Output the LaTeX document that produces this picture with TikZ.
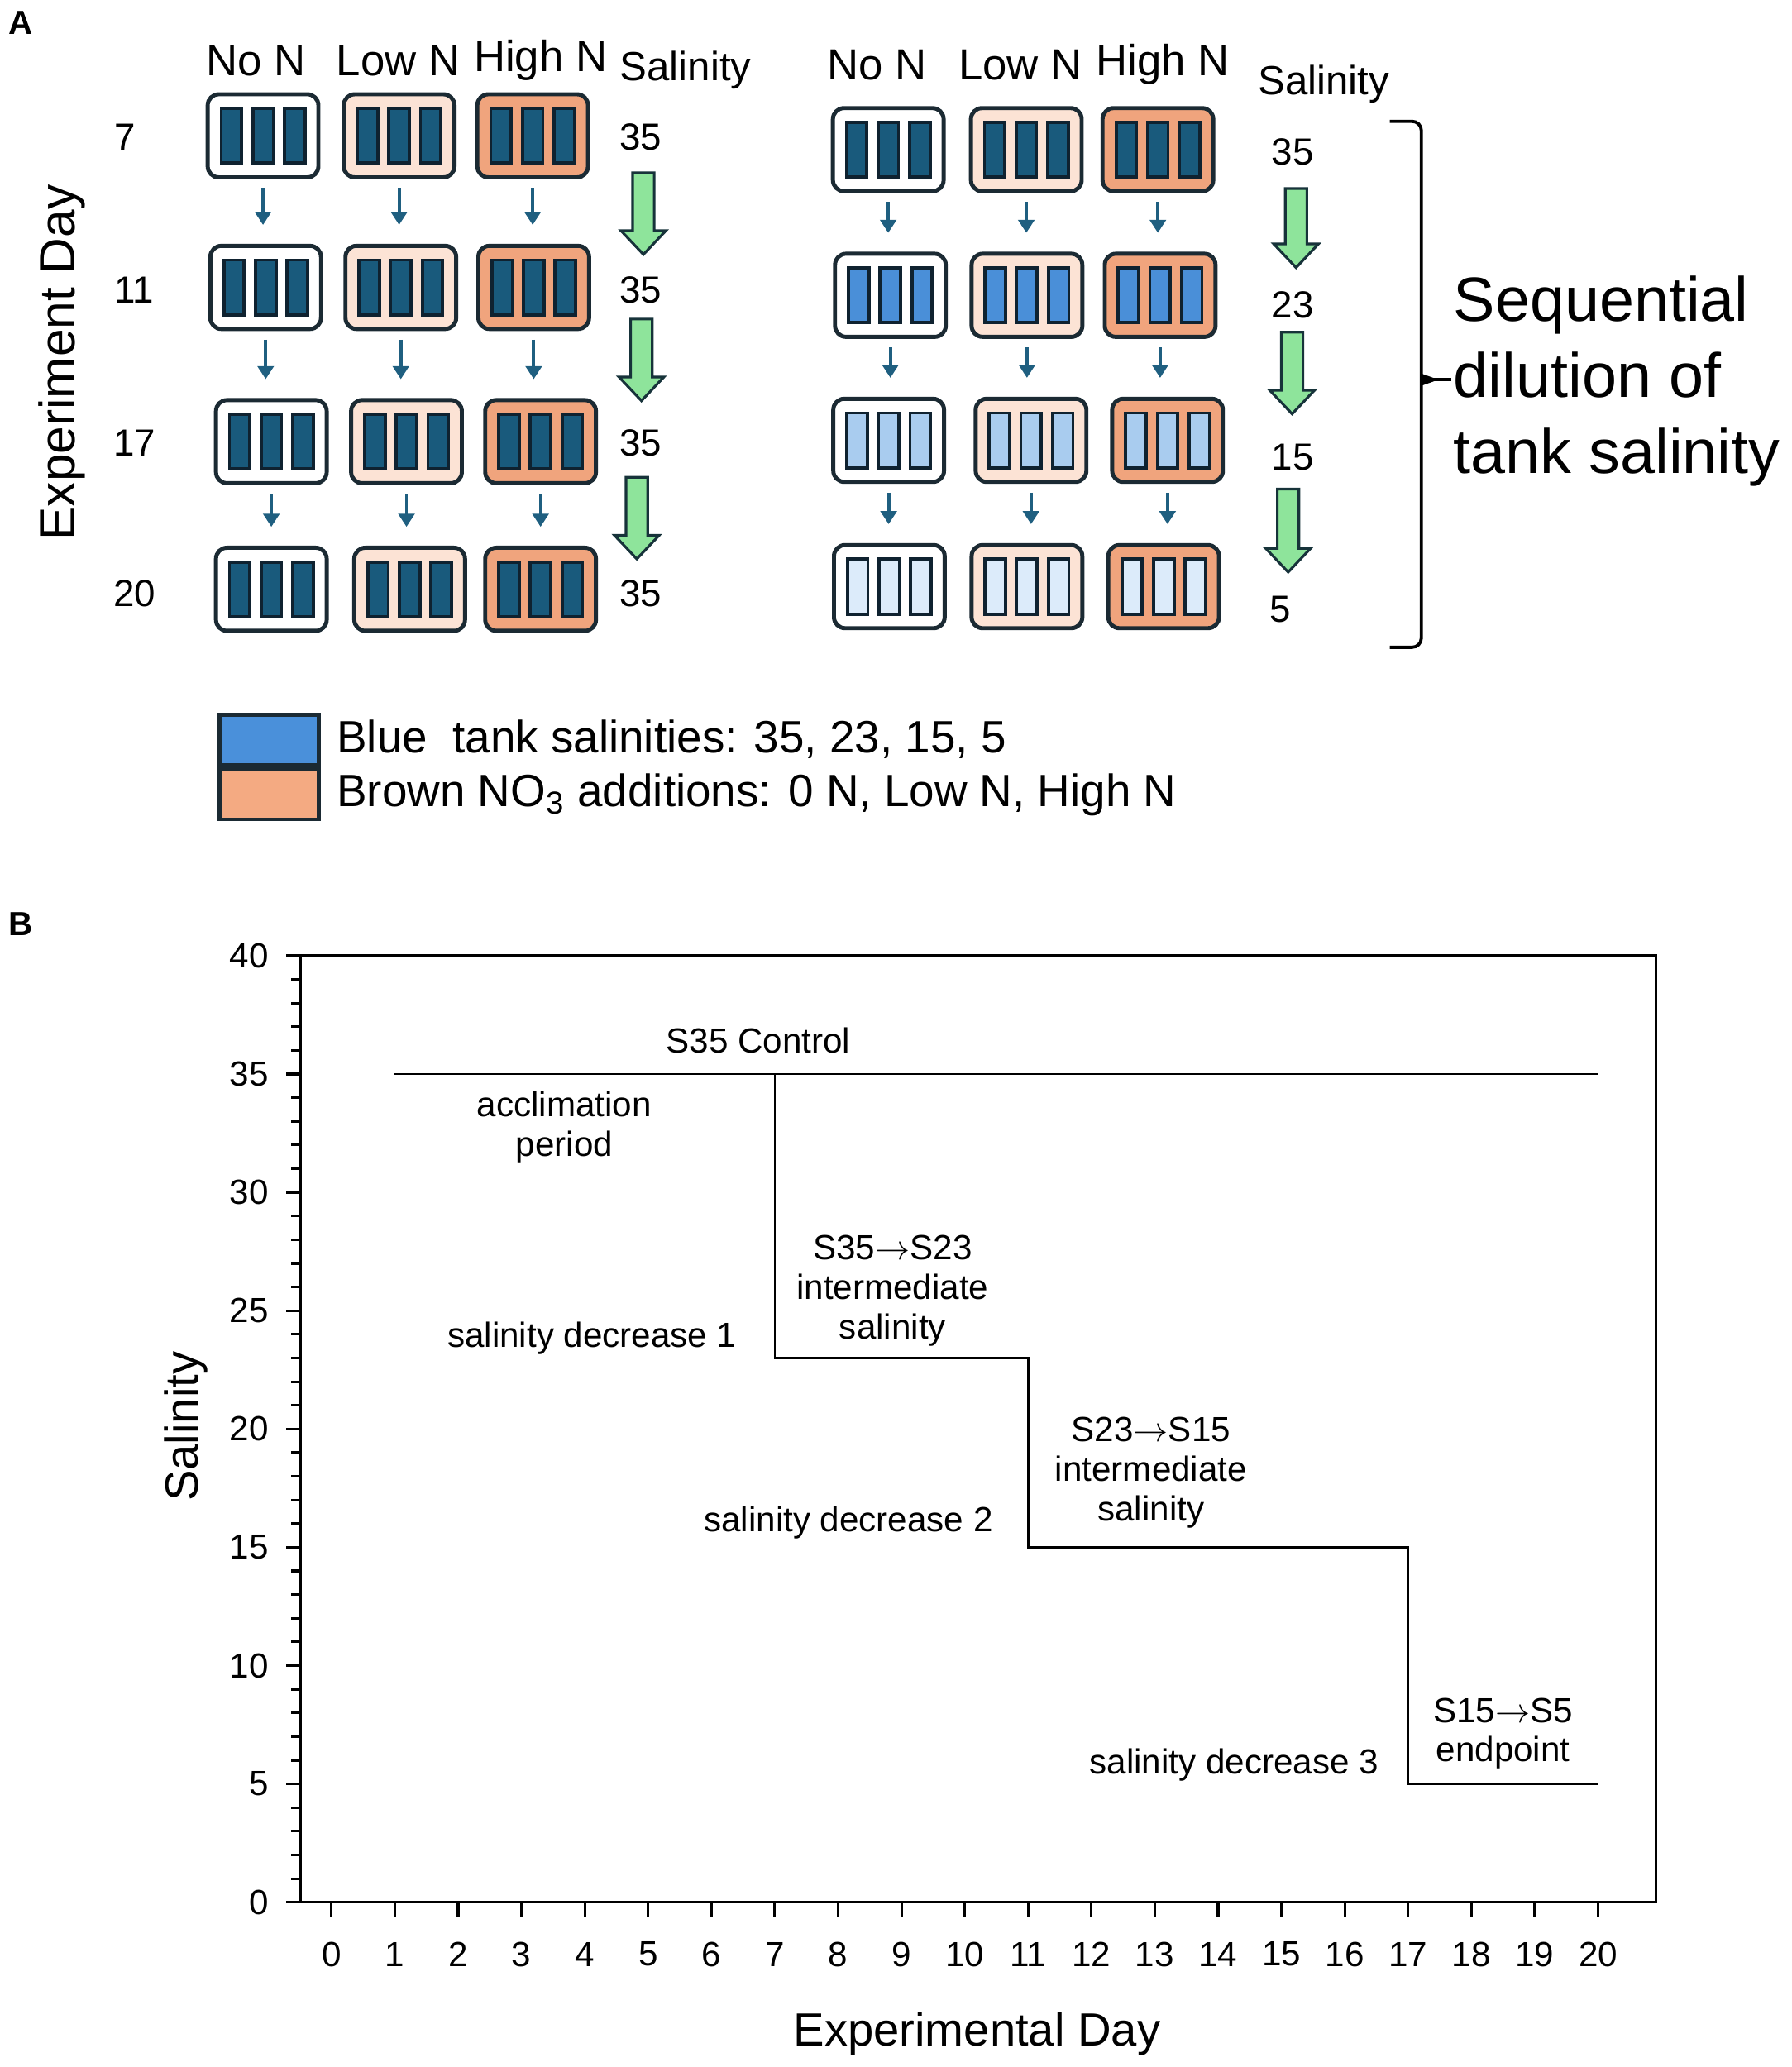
\documentclass[tikz,border=0pt]{standalone}
\usepackage{fontspec}
\setmainfont{Liberation Sans}
\usetikzlibrary{arrows.meta}

\definecolor{tankline}{HTML}{1B2A33}
\definecolor{tubeline}{HTML}{0F2230}
\definecolor{peach}{HTML}{FCE3D5}
\definecolor{salmon}{HTML}{F0A47D}
\definecolor{tubedark}{HTML}{195A7C}
\definecolor{tubemid}{HTML}{4A8FD8}
\definecolor{tubelight}{HTML}{A9CCEF}
\definecolor{tubepale}{HTML}{DCEBFA}
\definecolor{arrowblue}{HTML}{1F5F80}
\definecolor{salgreen}{HTML}{8EE49B}
\definecolor{salgreenline}{HTML}{17333A}
\definecolor{legblue}{HTML}{4A90DA}
\definecolor{legbrown}{HTML}{F4AA82}

\newcommand{\tank}[5]{%
  \node[tankbox, fill=#4] (#1) at (#2,#3) {};
  \foreach \dx in {-24,0,24}
    \draw[tube, fill=#5] ({#2+\dx-7.75},{#3-20.75}) rectangle ({#2+\dx+7.75},{#3+20.75});
}
\newcommand{\salarrow}[3]{%
  \draw[salarr] ({#1-8.2},#2) -- ({#1+8.2},#2) -- ({#1+8.2},{#3-18}) -- ({#1+17},{#3-18})
    -- (#1,#3) -- ({#1-17},{#3-18}) -- ({#1-8.2},{#3-18}) -- cycle;
}
\newcommand{\toarr}{$\rightarrow$}

\begin{document}
\begin{tikzpicture}[x=0.015946cm, y=-0.015946cm,
  every node/.style={inner sep=0pt},
  tankbox/.style={draw=tankline, line width=1.4pt, rounded corners=3.8pt,
    minimum width=1.339cm, minimum height=1.005cm},
  tube/.style={draw=tubeline, line width=1.1pt},
  feedarr/.style={draw=arrowblue, line width=1.1pt, -{Triangle[width=5.5pt,length=4.5pt]},
    shorten <=3pt, shorten >=6.5pt},
  salarr/.style={draw=salgreenline, fill=salgreen, line width=0.9pt},
  legkey/.style={draw=tankline, line width=1.3pt, minimum width=1.2cm, minimum height=0.61cm},
  paneltag/.style={font=\bfseries\fontsize{11.5}{14}\selectfont},
  hdr/.style={font=\fontsize{15}{18}\selectfont},
  salhdr/.style={font=\fontsize{14}{17}\selectfont},
  num/.style={font=\fontsize{13}{16}\selectfont},
  daytitle/.style={font=\fontsize{17.2}{20}\selectfont, rotate=90},
  legtext/.style={font=\fontsize{15.6}{19}\selectfont, anchor=west},
  bracetext/.style={font=\fontsize{21.5}{26.1}\selectfont, align=left, anchor=west},
  ticklab/.style={font=\fontsize{12}{14}\selectfont},
  note/.style={font=\fontsize{12}{13.6}\selectfont, align=center},
  axtitle/.style={font=\fontsize{16}{19}\selectfont},
  axisline/.style={line width=0.9pt},
  stepline/.style={line width=0.75pt}]
\useasboundingbox (0,0) rectangle (1359,1568);

\node[paneltag] (tagA) at (16,17) {A};
\node[paneltag] (tagB) at (16,701) {B};

\node[daytitle] (expday) at (47,275) {Experiment Day};
\node[num] (day7) at (95,104) {7};
\node[num] (day11) at (102,220) {11};
\node[num] (day17) at (102,336) {17};
\node[num] (day20) at (102,450) {20};

\node[hdr] (cnoh) at (194,46) {No N};
\node[hdr] (cloh) at (302,46) {Low N};
\node[hdr] (chih) at (410,46) {High N};
\node[salhdr] (csalh) at (520,53) {Salinity};

\tank{cno7}{199.5}{103}{white}{tubedark}
\tank{clo7}{302.7}{103}{peach}{tubedark}
\tank{chi7}{404}{103}{salmon}{tubedark}
\tank{cno11}{201.5}{218}{white}{tubedark}
\tank{clo11}{304}{218}{peach}{tubedark}
\tank{chi11}{404.8}{218}{salmon}{tubedark}
\tank{cno17}{205.8}{335}{white}{tubedark}
\tank{clo17}{308.3}{335}{peach}{tubedark}
\tank{chi17}{410}{335}{salmon}{tubedark}
\tank{cno20}{205.8}{447}{white}{tubedark}
\tank{clo20}{310.7}{447}{peach}{tubedark}
\tank{chi20}{410}{447}{salmon}{tubedark}

\node[num] (csal7) at (486,104) {35};
\node[num] (csal11) at (486,220) {35};
\node[num] (csal17) at (486,336) {35};
\node[num] (csal20) at (486,450) {35};
\salarrow{488}{131}{193}
\salarrow{486.5}{242}{304}
\salarrow{483}{362}{424}

\node[hdr] (dnoh) at (665,49) {No N};
\node[hdr] (dloh) at (774,49) {Low N};
\node[hdr] (dhih) at (882,49) {High N};
\node[salhdr] (dsalh) at (1004,64) {Salinity};

\tank{dno7}{673.7}{113.5}{white}{tubedark}
\tank{dlo7}{778.4}{113.5}{peach}{tubedark}
\tank{dhi7}{878.2}{113.5}{salmon}{tubedark}
\tank{dno11}{675.3}{224}{white}{tubemid}
\tank{dlo11}{778.9}{224}{peach}{tubemid}
\tank{dhi11}{879.9}{224}{salmon}{tubemid}
\tank{dno17}{674}{334}{white}{tubelight}
\tank{dlo17}{782}{334}{peach}{tubelight}
\tank{dhi17}{885.5}{334}{salmon}{tubelight}
\tank{dno20}{674.5}{445}{white}{tubepale}
\tank{dlo20}{778.9}{445}{peach}{tubepale}
\tank{dhi20}{882.6}{445}{salmon}{tubepale}

\node[num] (dsal7) at (980.5,115) {35};
\node[num] (dsal11) at (980.5,231) {23};
\node[num] (dsal17) at (980.5,347) {15};
\node[num] (dsal20) at (971,462) {5};
\salarrow{983}{143}{203}
\salarrow{980}{252}{314}
\salarrow{977}{371}{434}

\foreach \c in {cno,clo,chi,dno,dlo,dhi}
  \foreach \a/\b in {7/11,11/17,17/20}
    \draw[feedarr] (\c\a.south) -- (\c\a.south |- \c\b.north);

\draw[line width=1.1pt] (1054,92) -- (1071,92) to[out=0,in=90] (1078,99) -- (1078,484)
  to[out=-90,in=0] (1071,491) -- (1054,491);
\fill (1077,283) -- (1091,288) -- (1077,293) -- cycle;
\draw[line width=1.1pt] (1086,288) -- (1101,288);
\node[bracetext] (dilution) at (1102,289) {Sequential\\dilution of\\tank salinity};

\node[legkey, fill=legblue] (keyblue) at (204,561.5) {};
\node[legkey, fill=legbrown] (keybrown) at (204,602.5) {};
\node[legtext] (legblue) at (255,561) {Blue~~tank salinities: 35, 23, 15, 5};
\node[legtext] (legbrown) at (255,603) {Brown NO\textsubscript{3} additions: 0 N, Low N, High N};

\begin{scope}[shift={(251.4,1443)}, x=0.7659cm, y=0.28623cm]
\draw[axisline] (-0.487,0) rectangle (20.916,40);
\foreach \s in {1,...,39}
  \draw[axisline] (-0.487,\s) -- ++(-3.3pt,0pt);
\foreach \s in {0,5,...,40} {
  \draw[axisline] (-0.487,\s) -- ++(-5pt,0pt);
  \node[ticklab, anchor=east] (yl\s) at ([xshift=-10.9pt]-0.487,\s) {\s};
}
\foreach \d in {0,...,20} {
  \draw[axisline] (\d,0) -- ++(0pt,-4.85pt);
  \node[ticklab] (xl\d) at ([yshift=-17.9pt]\d,0) {\d};
}
\draw[stepline] (1,35) -- (20,35);
\draw[stepline] (7,35) -- (7,23) -- (11,23) -- (11,15) -- (17,15) -- (17,5) -- (20,5);
\end{scope}

\node[axtitle, rotate=90] (ytitle) at (141,1082) {Salinity};
\node[axtitle] (xtitle) at (741,1543) {Experimental Day};

\node[note] (ctrl) at (575,789) {S35 Control};
\node[note] (accl) at (428,855) {acclimation\\period};
\node[note] (int1) at (677,979) {S35\toarr S23\\intermediate\\salinity};
\node[note] (dec1) at (449,1015) {salinity decrease 1};
\node[note] (int2) at (873,1117) {S23\toarr S15\\intermediate\\salinity};
\node[note] (dec2) at (643.5,1155) {salinity decrease 2};
\node[note] (endp) at (1140,1315) {S15\toarr S5\\endpoint};
\node[note] (dec3) at (936,1339) {salinity decrease 3};
\end{tikzpicture}
\end{document}
